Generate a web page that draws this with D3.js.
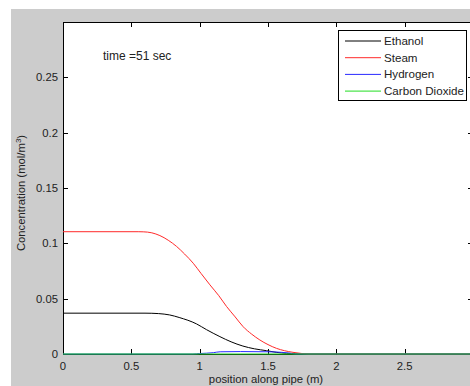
<!DOCTYPE html>
<html><head><meta charset="utf-8">
<script src="https://cdn.jsdelivr.net/npm/d3@7"></script>
<style>body{margin:0;background:#fff;}svg{display:block;font-family:"Liberation Sans",Arial,sans-serif;}</style>
</head><body>
<svg id="c" width="470" height="386"></svg>
<script>
const xTicks = [0, 0.5, 1, 1.5, 2, 2.5, 3];
const yTicks = [0, 0.05, 0.1, 0.15, 0.2, 0.25, 0.3];
const seriesNames = ["Ethanol", "Steam", "Hydrogen", "Carbon Dioxide"];
const seriesColors = ["#000000", "#ff2a2a", "#2a2aff", "#22dd22"];
const ethanolX = [0,0.6,0.65,0.7,0.78,0.85,0.977,1.05,1.148,1.23,1.316,1.4,1.489,1.56,1.635,1.7,1.8,2,2.5,3];
const ethanolY = [0.0369,0.0369,0.0368,0.0365,0.0353,0.033,0.0272,0.022,0.0157,0.011,0.0072,0.0047,0.003,0.0015,0.0006,0.0002,0,0,0,0];
const steamX = [0,0.55,0.587,0.65,0.709,0.77,0.831,0.89,0.953,1.01,1.075,1.14,1.197,1.26,1.318,1.38,1.44,1.5,1.562,1.62,1.683,1.75,1.8,2,2.5,3];
const steamY = [0.1105,0.1105,0.1104,0.1095,0.107,0.1028,0.0972,0.0903,0.082,0.0728,0.0625,0.0527,0.0429,0.0335,0.0247,0.018,0.0127,0.0085,0.0051,0.003,0.0015,0.0004,0,0,0,0];
const hydrogenX = [0,0.95,1.0,1.1,1.15,1.3,1.5,1.6,1.66,1.7,2,3];
const hydrogenY = [0,0,0.0004,0.0012,0.002,0.0022,0.002,0.0015,0.0008,0,0,0];
const co2X = [0,0.5,1,1.5,2,2.5,3];
const co2Y = [0,0,0,0,0,0,0];
const timeLabel = "time =51 sec";

const svg = d3.select("#c");
const L = 63, T = 22, R = 473, B = 354;
svg.append("rect").attr("x",11).attr("y",9).attr("width",470).attr("height",386).attr("fill","#cccccc");
svg.append("rect").attr("x",L).attr("y",T).attr("width",R-L).attr("height",B-T).attr("fill","#fff");

const x = d3.scaleLinear().domain([0,3]).range([L,R]);
const y = d3.scaleLinear().domain([0,0.3]).range([B,T]);

svg.append("defs").append("clipPath").attr("id","clip").append("rect")
  .attr("x",L).attr("y",T-2).attr("width",R-L).attr("height",B-T+4);

// axes frame
const ax = svg.append("g").attr("font-size",11.3).attr("fill","#222");
const frame = svg.append("g").attr("stroke","#000").attr("stroke-width",1).attr("fill","none");
frame.append("line").attr("x1",L+0.5).attr("x2",L+0.5).attr("y1",T).attr("y2",B);
frame.append("line").attr("x1",L).attr("x2",R).attr("y1",T+0.5).attr("y2",T+0.5);
frame.append("line").attr("x1",R-0.5).attr("x2",R-0.5).attr("y1",T).attr("y2",B);
frame.append("line").attr("x1",L).attr("x2",R).attr("y1",B+0.5).attr("y2",B+0.5);
xTicks.forEach(t=>{
  const px = Math.round(x(t))+0.5;
  frame.append("line").attr("x1",px).attr("x2",px).attr("y1",B).attr("y2",B-5);
  frame.append("line").attr("x1",px).attr("x2",px).attr("y1",T).attr("y2",T+5);
  if (x(t) < 460) ax.append("text").attr("x",x(t)).attr("y",B+16).attr("text-anchor","middle").text(d3.format("")(t));
});
yTicks.forEach(t=>{
  const py = Math.round(y(t))+0.5;
  frame.append("line").attr("x1",L).attr("x2",L+5).attr("y1",py).attr("y2",py);
  frame.append("line").attr("x1",R).attr("x2",R-5).attr("y1",py).attr("y2",py);
  if (t < 0.3) ax.append("text").attr("x",L-5).attr("y",y(t)+4).attr("text-anchor","end").text(d3.format("")(t));
});

// data lines
const data = [
  {xs: ethanolX, ys: ethanolY},
  {xs: steamX, ys: steamY},
  {xs: hydrogenX, ys: hydrogenY},
  {xs: co2X, ys: co2Y}
];
const line = d3.line().x(d=>x(d[0])).y(d=>y(d[1])).curve(d3.curveMonotoneX);
const g = svg.append("g").attr("clip-path","url(#clip)");
data.forEach((s,i)=>{
  g.append("path").attr("d", line(s.xs.map((v,j)=>[v,s.ys[j]])))
    .attr("fill","none").attr("stroke",seriesColors[i]).attr("stroke-width",1);
});

ax.append("text").attr("x",266).attr("y",383).attr("text-anchor","middle").text("position along pipe (m)");
const yl = ax.append("text").attr("transform","translate(25,193) rotate(-90)").attr("text-anchor","middle");
yl.append("tspan").text("Concentration (mol/m");
yl.append("tspan").attr("font-size",8).attr("dy",-4).text("3");
yl.append("tspan").attr("dy",4).text(")");

ax.append("text").attr("x",103).attr("y",60).attr("font-size",12).text(timeLabel);

// legend
const lg = svg.append("g");
lg.append("rect").attr("x",338.5).attr("y",30.5).attr("width",128).attr("height",70).attr("fill","#fff").attr("stroke","#000");
seriesNames.forEach((n,i)=>{
  const yy = 41 + i*16.7;
  lg.append("line").attr("x1",345).attr("x2",381).attr("y1",yy).attr("y2",yy).attr("stroke",seriesColors[i]).attr("stroke-width",1);
  lg.append("text").attr("x",384).attr("y",yy+4).attr("font-size",11.6).attr("fill","#222").text(n);
});
</script>
</body></html>
